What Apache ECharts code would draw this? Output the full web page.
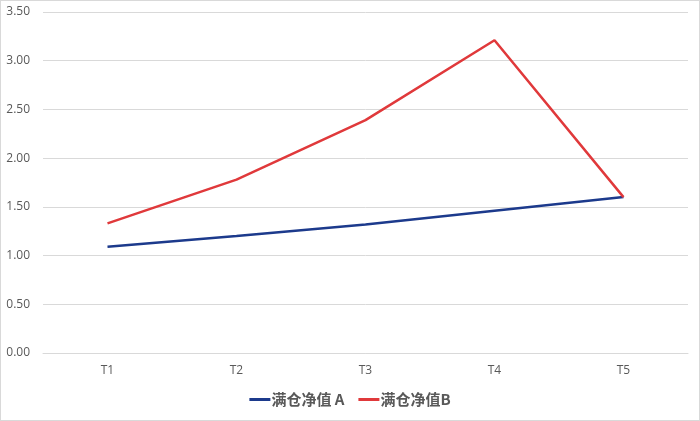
<!DOCTYPE html>
<html><head><meta charset="utf-8">
<script src="https://cdn.jsdelivr.net/npm/echarts@6/dist/echarts.min.js"></script>
<style>html,body{margin:0;padding:0;background:#fff}#c{width:700px;height:421px;box-sizing:border-box;border:1px solid #d9d9d9}</style>
</head><body><div id="c"></div>
<script>
const categories = ['T1','T2','T3','T4','T5'];
const seriesAName = '满仓净值 A';
const seriesBName = '满仓净值B';
const seriesA = [1.09, 1.20, 1.32, 1.46, 1.60];
const seriesB = [1.33, 1.78, 2.39, 3.21, 1.60];
const yTicks = {min: 0, max: 3.5, interval: 0.5};

const chart = echarts.init(document.getElementById('c'), null, {renderer: 'canvas'});
chart.setOption({
  animation: false,
  grid: {left: 42, right: 11, top: 11, bottom: 67},
  legend: {
    bottom: 8, left: 'center',
    itemWidth: 21, itemHeight: 3, itemGap: 14, icon: 'rect',
    textStyle: {color: '#595959', fontSize: 15, fontWeight: 'bold', fontFamily: 'Noto Sans CJK SC', padding: [0, 0, 0, -4]},
    data: [seriesAName, seriesBName]
  },
  xAxis: {
    type: 'category', data: categories, boundaryGap: true,
    axisLine: {lineStyle: {color: '#d9d9d9'}},
    axisTick: {show: false},
    axisLabel: {color: '#595959', fontSize: 12, margin: 12, fontFamily: 'Open Sans'}
  },
  yAxis: {
    type: 'value', min: yTicks.min, max: yTicks.max, interval: yTicks.interval,
    axisLine: {show: false}, axisTick: {show: false},
    splitLine: {lineStyle: {color: '#d9d9d9'}},
    axisLabel: {color: '#595959', fontSize: 12, margin: 13, fontFamily: 'Open Sans', formatter: v => v.toFixed(2)}
  },
  series: [
    {name: seriesAName, type: 'line', data: seriesA, symbol: 'none', lineStyle: {color: '#1c3a8c', width: 2.5}, itemStyle: {color: '#1c3a8c'}},
    {name: seriesBName, type: 'line', data: seriesB, symbol: 'none', lineStyle: {color: '#e0393b', width: 2.5}, itemStyle: {color: '#e0393b'}}
  ]
});
</script></body></html>
